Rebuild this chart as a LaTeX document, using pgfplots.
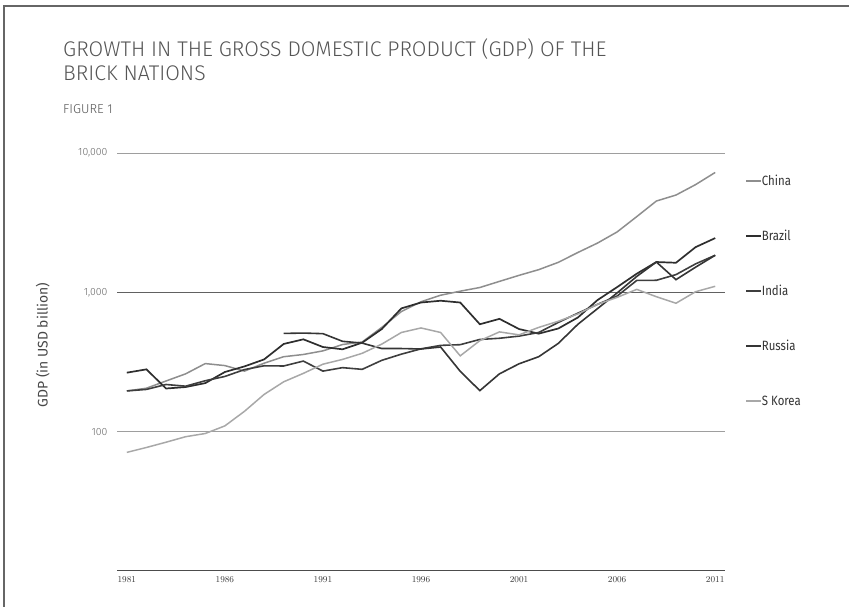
\documentclass[border=0pt]{standalone}
\usepackage{pgfplots}
\pgfplotsset{compat=1.18}
\usepackage{fontspec}
\setmainfont{Fira Sans}
\newfontfamily\lightfont{Fira Sans Light}
\newfontfamily\condfont{Fira Sans}[FakeStretch=0.85]
\newfontfamily\yearfont{Liberation Serif}

\definecolor{chinagray}{HTML}{8E8E8E}
\definecolor{koreagray}{HTML}{A8A8A8}
\definecolor{brazilgray}{HTML}{2E2E2E}
\definecolor{indiagray}{HTML}{3E3E3E}
\definecolor{russiagray}{HTML}{353535}
\definecolor{framegray}{HTML}{666666}
\definecolor{titlegray}{HTML}{555555}

\begin{document}
\begin{tikzpicture}[x=1bp,y=1bp]
\useasboundingbox (0,0) rectangle (849,607);
% frame on the top and left edges
\draw[framegray, line width=1.6bp] (4,0) -- (4,601) -- (849,601);

% heading
\node[anchor=base west, inner sep=0pt, text=titlegray,
      font=\lightfont\fontsize{21.3}{24}\selectfont] at (63,550)
  {GROWTH IN THE GROSS DOMESTIC PRODUCT (GDP) OF THE};
\node[anchor=base west, inner sep=0pt, text=titlegray,
      font=\lightfont\fontsize{21.3}{24}\selectfont] at (63,526)
  {BRICK NATIONS};
\node[anchor=base west, inner sep=0pt, text=titlegray,
      font=\lightfont\fontsize{13}{14}\selectfont] at (63,493)
  {FIGURE 1};

\begin{axis}[
  at={(117bp,36bp)}, anchor=south west,
  scale only axis, width=608bp, height=418bp,
  xmin=1980.5, xmax=2011.5,
  ymode=log, ymin=10, ymax=10000,
  axis x line*=bottom, axis y line*=left,
  x axis line style={draw=black!70, line width=1bp, -},
  y axis line style={draw=none},
  major tick length=0pt,
  xtick={1981,1986,1991,1996,2001,2006,2011},
  /pgf/number format/1000 sep={},
  xticklabel style={font=\yearfont\fontsize{9.5}{10}\selectfont, text=black!80, yshift=-2bp},
  ytick={100,10000},
  yticklabels={100,10{,}000},
  extra y ticks={1000},
  extra y tick labels={1{,}000},
  extra y tick style={grid style={draw=black!62, line width=1bp}},
  yticklabel style={font=\lightfont\fontsize{10.5}{12}\selectfont, text=black!60, xshift=-6bp},
  ymajorgrids,
  grid style={draw=black!38, line width=0.9bp},
  ylabel={GDP (in USD billion)},
  ylabel style={at={(axis description cs:-0.122,0.54)}, anchor=center,
                font=\fontsize{14}{16}\selectfont, text=black!72},
  clip=false,
  legend cell align=left,
  legend style={at={(axis description cs:1.0329,0.944)}, anchor=north west,
                draw=none, fill=none, inner sep=0pt, row sep=46bp,
                font=\condfont\fontsize{13.5}{14}\selectfont, text=black!80,
                nodes={inner sep=0pt, text height=9bp, text depth=0bp, xshift=1.5bp}},
  legend image code/.code={\draw[#1] (0bp,0bp) -- (15bp,0bp);},
]
% China
\addplot[chinagray, line width=1.5bp] coordinates {
 (1981,196) (1982,205) (1983,231) (1984,260) (1985,308) (1986,298)
 (1987,272) (1988,310) (1989,345) (1990,358) (1991,380) (1992,422)
 (1993,440) (1994,560) (1995,728) (1996,856) (1997,953) (1998,1019)
 (1999,1083) (2000,1198) (2001,1324) (2002,1454) (2003,1641) (2004,1932)
 (2005,2257) (2006,2713) (2007,3494) (2008,4520) (2009,4990) (2010,5930)
 (2011,7250)};
\addlegendentry{China}
% Brazil
\addplot[brazilgray, line width=1.7bp] coordinates {
 (1981,265) (1982,280) (1983,204) (1984,209) (1985,223) (1986,268)
 (1987,294) (1988,330) (1989,426) (1990,460) (1991,405) (1992,390)
 (1993,435) (1994,545) (1995,767) (1996,845) (1997,870) (1998,845)
 (1999,590) (2000,645) (2001,545) (2002,505) (2003,550) (2004,660)
 (2005,880) (2006,1090) (2007,1360) (2008,1650) (2009,1630) (2010,2110)
 (2011,2450)};
\addlegendentry{Brazil}
% India
\addplot[indiagray, line width=1.6bp] coordinates {
 (1981,196) (1982,201) (1983,218) (1984,212) (1985,232) (1986,249)
 (1987,279) (1988,297) (1989,296) (1990,321) (1991,272) (1992,288)
 (1993,280) (1994,325) (1995,360) (1996,393) (1997,416) (1998,421)
 (1999,459) (2000,468) (2001,485) (2002,515) (2003,608) (2004,709)
 (2005,820) (2006,940) (2007,1217) (2008,1220) (2009,1340) (2010,1600)
 (2011,1845)};
\addlegendentry{India}
% Russia
\addplot[russiagray, line width=1.6bp] coordinates {
 (1989,507) (1990,510) (1991,505) (1992,445) (1993,432) (1994,395)
 (1995,395) (1996,392) (1997,405) (1998,271) (1999,197) (2000,260)
 (2001,307) (2002,345) (2003,430) (2004,590) (2005,764) (2006,990)
 (2007,1300) (2008,1650) (2009,1233) (2010,1515) (2011,1845)};
\addlegendentry{Russia}
% S Korea
\addplot[koreagray, line width=1.5bp] coordinates {
 (1981,71) (1982,77) (1983,84) (1984,92) (1985,97) (1986,110)
 (1987,140) (1988,185) (1989,228) (1990,262) (1991,305) (1992,330)
 (1993,365) (1994,425) (1995,515) (1996,555) (1997,515) (1998,350)
 (1999,450) (2000,520) (2001,495) (2002,560) (2003,620) (2004,700)
 (2005,820) (2006,920) (2007,1050) (2008,930) (2009,835) (2010,1010)
 (2011,1105)};
\addlegendentry{S Korea}
\end{axis}
\end{tikzpicture}
\end{document}
